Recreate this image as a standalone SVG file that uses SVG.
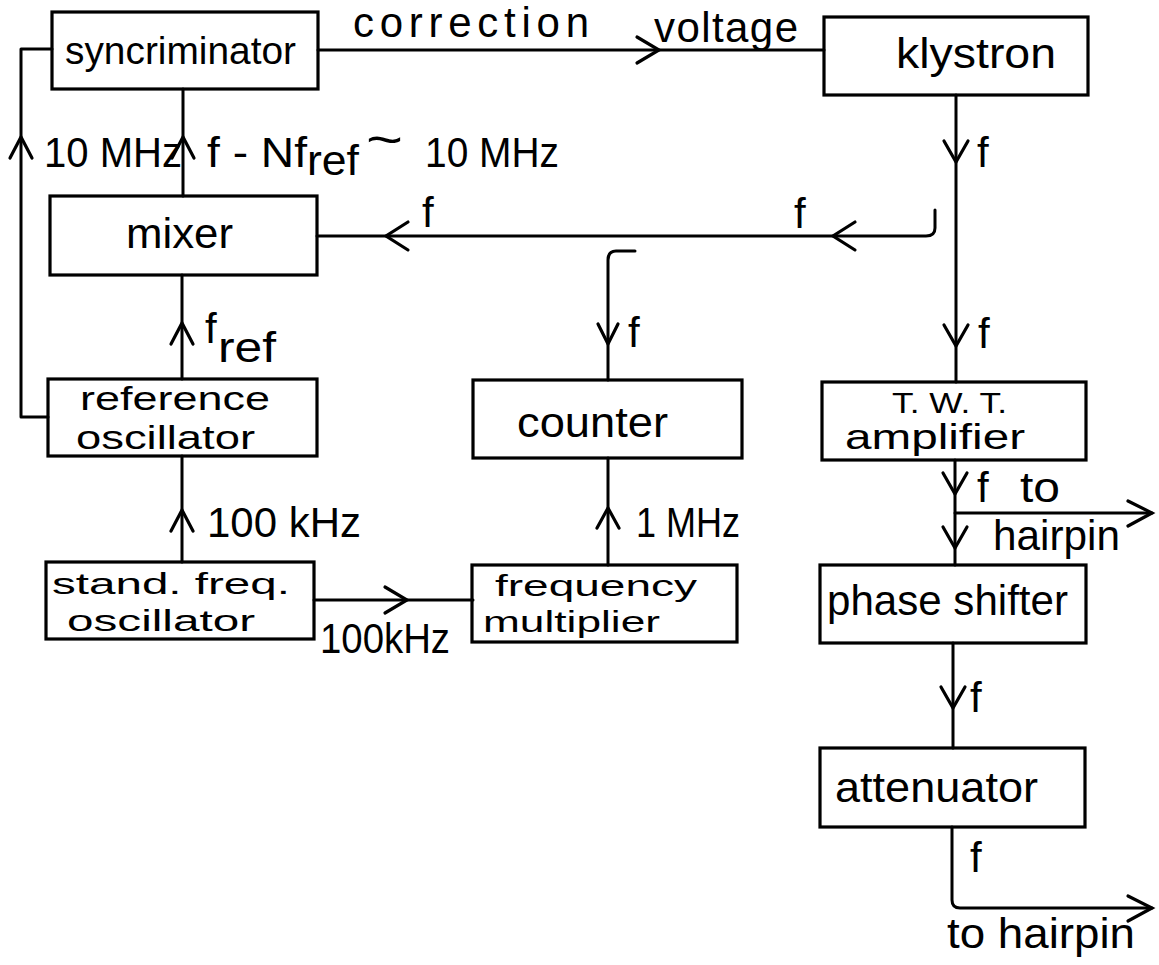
<svg xmlns="http://www.w3.org/2000/svg" width="1159" height="965" viewBox="0 0 1159 965">
<style>
.bx{fill:none;stroke:#000;stroke-width:3.2;stroke-linejoin:miter}
.ln{fill:none;stroke:#000;stroke-width:3;stroke-linecap:round;stroke-linejoin:round}
.ah{fill:none;stroke:#000;stroke-width:3.2;stroke-linecap:round;stroke-linejoin:miter}
.t{font-family:"Liberation Sans",Arial,sans-serif;font-size:42px;fill:#000}
.s{font-size:38px}
.s3{font-size:33px}
.s2{font-size:30px}
</style>
<rect width="1159" height="965" fill="#fff"/>
<g id="connectors">
  <path class="ln" d="M318 50 H824"/>
  <path class="ah" d="M637 37 L659 50 L637 63"/>
  <path class="ln" d="M956 95 V382"/>
  <path class="ah" d="M944 141 L956 162 L968 141"/>
  <path class="ah" d="M944 325 L956 346 L968 325"/>
  <path class="ln" d="M935 210 V228 Q935 236 926 236 H317"/>
  <path class="ah" d="M855 222 L833 236 L855 250"/>
  <path class="ah" d="M408 222 L386 236 L408 250"/>
  <path class="ln" d="M635 251 H616 Q608 251 608 260 V380"/>
  <path class="ah" d="M598 324 L608 344 L618 324"/>
  <path class="ln" d="M183 89 V196"/>
  <path class="ah" d="M172 158 L183 137 L194 158"/>
  <path class="ln" d="M48 417 H21 V49 H52"/>
  <path class="ah" d="M10 158 L21 137 L32 158"/>
  <path class="ln" d="M182 275 V379"/>
  <path class="ah" d="M171 344 L182 323 L193 344"/>
  <path class="ln" d="M182 456 V562"/>
  <path class="ah" d="M171 531 L182 510 L193 531"/>
  <path class="ln" d="M314 600 H473"/>
  <path class="ah" d="M385 587 L407 600 L385 613"/>
  <path class="ln" d="M608 458 V565"/>
  <path class="ah" d="M597 528 L608 508 L619 528"/>
  <path class="ln" d="M955 460 V565"/>
  <path class="ah" d="M943 473 L955 494 L967 473"/>
  <path class="ah" d="M943 527 L955 548 L967 527"/>
  <path class="ln" d="M955 513 H1152"/>
  <path class="ah" d="M1128 501 L1152 513 L1128 526"/>
  <path class="ln" d="M953 643 V748"/>
  <path class="ah" d="M941 687 L953 708 L965 687"/>
  <path class="ln" d="M952 827 V900 Q952 908 960 908 H1152"/>
  <path class="ah" d="M1128 896 L1152 908 L1128 921"/>
</g>
<g id="syncriminator">
  <rect class="bx" x="52" y="12" width="266" height="77"/>
  <text class="t s" x="65" y="64" textLength="231" lengthAdjust="spacingAndGlyphs">syncriminator</text>
</g>
<g id="klystron">
  <rect class="bx" x="824" y="17" width="264" height="78"/>
  <text class="t" x="896" y="68" textLength="160" lengthAdjust="spacingAndGlyphs">klystron</text>
</g>
<g id="mixer">
  <rect class="bx" x="50" y="196" width="267" height="79"/>
  <text class="t" x="126" y="248" textLength="107" lengthAdjust="spacingAndGlyphs">mixer</text>
</g>
<g id="reference-oscillator">
  <rect class="bx" x="48" y="379" width="269" height="77"/>
  <text class="t s3" x="80" y="410" textLength="190" lengthAdjust="spacingAndGlyphs">reference</text>
  <text class="t s3" x="76" y="449" textLength="179" lengthAdjust="spacingAndGlyphs">oscillator</text>
</g>
<g id="counter">
  <rect class="bx" x="473" y="380" width="269" height="78"/>
  <text class="t" x="517" y="437" textLength="151" lengthAdjust="spacingAndGlyphs">counter</text>
</g>
<g id="stand-freq-oscillator">
  <rect class="bx" x="46" y="562" width="268" height="77"/>
  <text class="t s2" x="52" y="594" textLength="238" lengthAdjust="spacingAndGlyphs">stand. freq.</text>
  <text class="t s2" x="67" y="631" textLength="188" lengthAdjust="spacingAndGlyphs">oscillator</text>
</g>
<g id="frequency-multiplier">
  <rect class="bx" x="472" y="565" width="265" height="77"/>
  <text class="t s2" x="495" y="596" textLength="202" lengthAdjust="spacingAndGlyphs">frequency</text>
  <text class="t s2" x="483" y="632" textLength="177" lengthAdjust="spacingAndGlyphs">multiplier</text>
</g>
<g id="twt-amplifier">
  <rect class="bx" x="822" y="382" width="264" height="78"/>
  <text class="t" style="font-size:30px" x="892" y="413" textLength="115" lengthAdjust="spacingAndGlyphs">T. W. T.</text>
  <text class="t" style="font-size:35px" x="845" y="449" textLength="180" lengthAdjust="spacingAndGlyphs">amplifier</text>
</g>
<g id="phase-shifter">
  <rect class="bx" x="820" y="565" width="266" height="78"/>
  <text class="t" x="827" y="615" textLength="241" lengthAdjust="spacingAndGlyphs">phase shifter</text>
</g>
<g id="attenuator">
  <rect class="bx" x="820" y="748" width="265" height="79"/>
  <text class="t" x="835" y="802" textLength="203" lengthAdjust="spacingAndGlyphs">attenuator</text>
</g>
<g id="labels">
  <text class="t" x="353" y="37" textLength="236" lengthAdjust="spacing">correction</text>
  <text class="t" x="654" y="42" textLength="144" lengthAdjust="spacing">voltage</text>
  <text class="t" x="44" y="167" textLength="138" lengthAdjust="spacingAndGlyphs">10 MHz</text>
  <text class="t" x="207" y="167" textLength="100" lengthAdjust="spacingAndGlyphs">f - Nf</text>
  <text class="t" x="307" y="175" textLength="52" lengthAdjust="spacingAndGlyphs">ref</text>
  <text class="t" style="font-size:50px" x="366" y="157" textLength="37" lengthAdjust="spacingAndGlyphs">~</text>
  <text class="t" x="425" y="167" textLength="134" lengthAdjust="spacingAndGlyphs">10 MHz</text>
  <text class="t" x="422" y="227">f</text>
  <text class="t" x="794" y="228">f</text>
  <text class="t" x="977" y="167">f</text>
  <text class="t" x="628" y="347">f</text>
  <text class="t" x="978" y="348">f</text>
  <text class="t" x="205" y="343">f</text>
  <text class="t" x="218" y="362" textLength="58" lengthAdjust="spacingAndGlyphs">ref</text>
  <text class="t" x="207" y="537" textLength="154" lengthAdjust="spacingAndGlyphs">100 kHz</text>
  <text class="t" x="636" y="537" textLength="104" lengthAdjust="spacingAndGlyphs">1 MHz</text>
  <text class="t" x="320" y="653" textLength="130" lengthAdjust="spacingAndGlyphs">100kHz</text>
  <text class="t" x="977" y="502">f</text>
  <text class="t" x="1020" y="502" textLength="40" lengthAdjust="spacingAndGlyphs">to</text>
  <text class="t" x="993" y="550" textLength="127" lengthAdjust="spacingAndGlyphs">hairpin</text>
  <text class="t" x="970" y="712">f</text>
  <text class="t" x="970" y="872">f</text>
  <text class="t" x="947" y="948" textLength="188" lengthAdjust="spacingAndGlyphs">to hairpin</text>
</g>
</svg>
